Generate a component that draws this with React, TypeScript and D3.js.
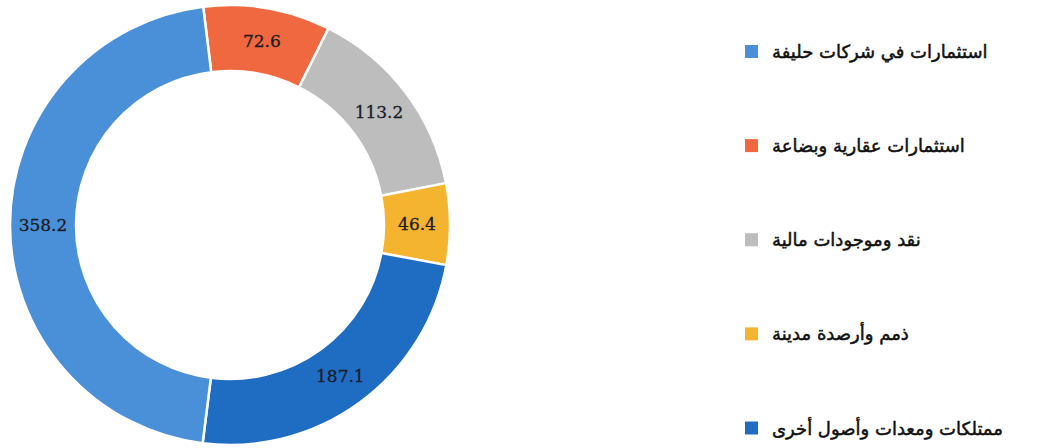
import React from "react";
import * as d3 from "d3";

const categories = [
  "استثمارات عقارية وبضاعة",
  "نقد وموجودات مالية",
  "ذمم وأرصدة مدينة",
  "ممتلكات ومعدات وأصول أخرى",
  "استثمارات في شركات حليفة",
];
const values = [72.6, 113.2, 46.4, 187.1, 358.2];
const colors = ["#f0683f", "#bdbdbd", "#f5b42f", "#1f6dc2", "#4a90d8"];
const legendOrder = [4, 0, 1, 2, 3];

export default function App() {
  const W = 1037;
  const H = 448;
  const cx = 230;
  const cy = 225;
  const outerR = 220;
  const innerR = 154;
  const start = (-7 * Math.PI) / 180;

  const pie = d3
    .pie<number>()
    .sort(null)
    .value((d) => d)
    .startAngle(start)
    .endAngle(start + 2 * Math.PI);
  const arcs = pie(values);
  const arc = d3.arc<d3.PieArcDatum<number>>().innerRadius(innerR).outerRadius(outerR);
  const labelArc = d3
    .arc<d3.PieArcDatum<number>>()
    .innerRadius((innerR + outerR) / 2)
    .outerRadius((innerR + outerR) / 2);

  const legendY = d3.scalePoint<number>().domain(d3.range(legendOrder.length)).range([51.5, 428]);

  return (
    <svg
      width={W}
      height={H}
      style={{ position: "absolute", left: 0, top: 0, background: "#fff" }}
    >
      <g transform={`translate(${cx},${cy})`}>
        {arcs.map((a, i) => (
          <path key={i} d={arc(a) || ""} fill={colors[i]} stroke="#fff" strokeWidth={2.5} />
        ))}
        {arcs.map((a, i) => {
          const [x, y] = labelArc.centroid(a);
          return (
            <text
              key={"l" + i}
              x={x}
              y={y}
              textAnchor="middle"
              dominantBaseline="central"
              fontFamily="'DejaVu Serif', serif"
              fontSize={17}
              fill="#1c1c24"
              stroke="#1c1c24"
              strokeWidth={0.3}
            >
              {values[i].toFixed(1)}
            </text>
          );
        })}
      </g>
      {legendOrder.map((k, j) => {
        const y = legendY(j) as number;
        return (
          <g key={"g" + j}>
            <rect x={745} y={y - 6.5} width={13} height={13} fill={colors[k]} />
            <text
              x={772}
              y={y}
              textAnchor="start"
              dominantBaseline="central"
              fontFamily="'DejaVu Sans', sans-serif"
              fontSize={18}
              fill="#111"
              stroke="#111"
              strokeWidth={0.5}
            >
              {categories[k]}
            </text>
          </g>
        );
      })}
    </svg>
  );
}
